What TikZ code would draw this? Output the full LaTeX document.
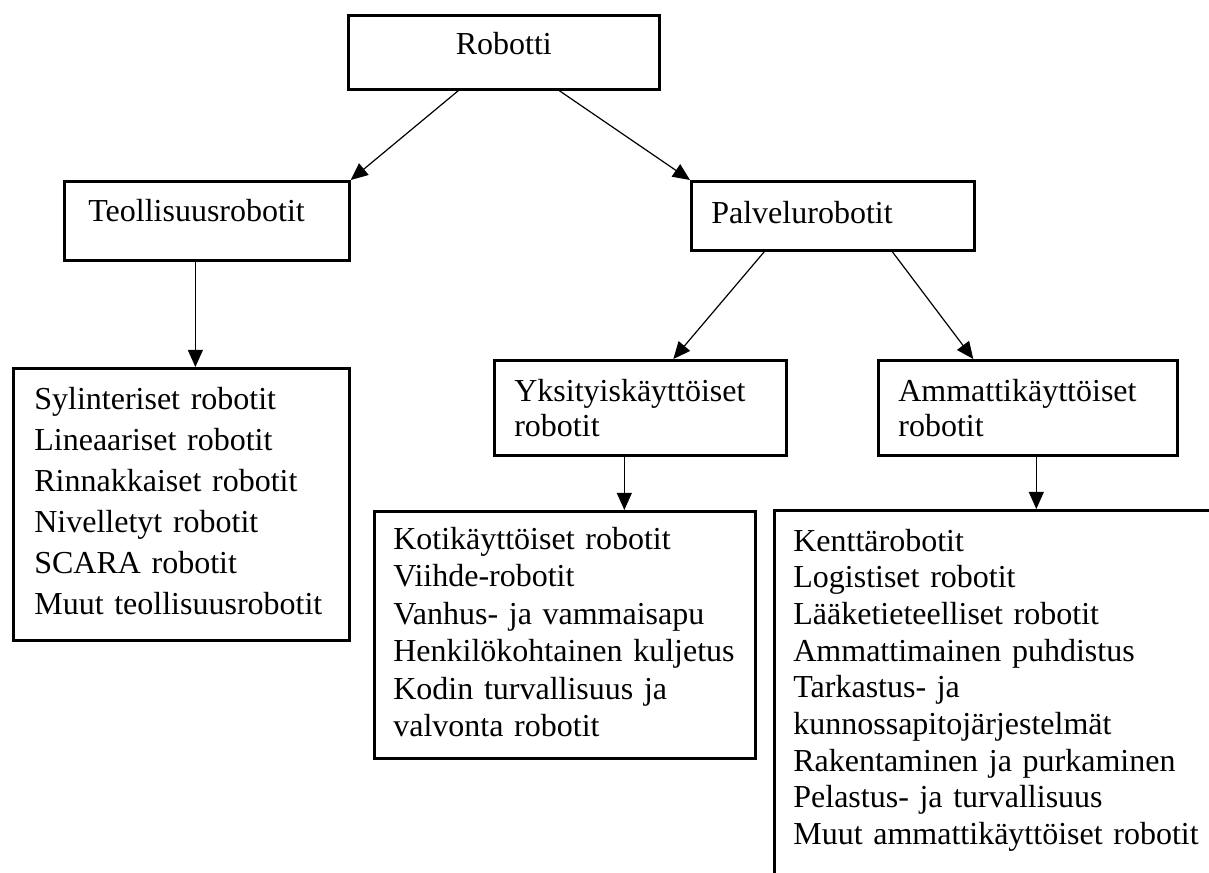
\documentclass[tikz,border=0pt]{standalone}
\usepackage{fontspec}
\setmainfont{Liberation Serif}
\usetikzlibrary{arrows.meta}

\tikzset{
  box/.style = {draw, line width=1pt, anchor=north west, inner ysep=0pt, align=left},
  arr/.style = {line width=0.45pt, -{Triangle[length=6.4pt,width=5.6pt]}}
}

\begin{document}
\begin{tikzpicture}[x=0.375pt,y=-0.375pt]
      \useasboundingbox (0,0) rectangle (1209,872);

      \node[box, align=center, inner xsep=0pt, text width=116.6pt, text height=14.63pt, text depth=13.12pt,
            font=\fontsize{12pt}{14pt}\selectfont] (robot) at (347,14) {Robotti};

      \node[box, inner xsep=9pt, text width=88.9pt, text height=15pt, text depth=14.63pt,
            font=\fontsize{12pt}{14pt}\selectfont] (teol) at (63,180) {Teollisuusrobotit};
      \node[box, inner xsep=7.5pt, text width=91.1pt, text height=15.75pt, text depth=10.13pt,
            font=\fontsize{12pt}{14pt}\selectfont] (palv) at (690,180) {Palvelurobotit};

      \node[box, inner xsep=7.88pt, text width=110.2pt, text height=15.38pt, text depth=86.62pt,
            font=\fontsize{12pt}{15.38pt}\selectfont] (teolList) at (12,367)
            {Sylinteriset robotit\\Lineaariset robotit\\Rinnakkaiset robotit\\Nivelletyt robotit\\SCARA robotit\\Muut teollisuusrobotit};

      \node[box, inner xsep=7.5pt, text width=94.5pt, text height=15.38pt, text depth=20.25pt,
            font=\fontsize{12pt}{13.3pt}\selectfont] (yksi) at (493,359) {Yksityiskäyttöiset\\robotit};
      \node[box, inner xsep=7.5pt, text width=97.1pt, text height=15.38pt, text depth=20.25pt,
            font=\fontsize{12pt}{13.3pt}\selectfont] (ammat) at (877,359) {Ammattikäyttöiset\\robotit};

      \node[box, inner xsep=7.13pt, text width=128.6pt, text height=14.25pt, text depth=78.38pt,
            font=\fontsize{12pt}{14.06pt}\selectfont] (yksiList) at (373,510)
            {Kotikäyttöiset robotit\\Viihde-robotit\\Vanhus- ja vammaisapu\\Henkilökohtainen kuljetus\\Kodin turvallisuus ja\\valvonta robotit};
      \node[box, inner xsep=7.13pt, text width=158.2pt, text height=15.38pt, text depth=127.1pt,
            font=\fontsize{12pt}{13.73pt}\selectfont] (ammatList) at (773,509)
            {Kenttärobotit\\Logistiset robotit\\Lääketieteelliset robotit\\Ammattimainen puhdistus\\Tarkastus- ja\\kunnossapitojärjestelmät\\Rakentaminen ja purkaminen\\Pelastus- ja turvallisuus\\Muut ammattikäyttöiset robotit};

      \draw[arr] ([xshift=-17.06pt]robot.south) -- (teol.north east);
      \draw[arr] ([xshift=20.81pt]robot.south) -- (palv.north west);

      \draw[arr] ([xshift=-4.31pt]teol.south) -- ([xshift=-4.31pt]teol.south |- teolList.north);

      \draw[arr] ([xshift=-25.69pt]palv.south) -- ([xshift=12.38pt]yksi.north);
      \draw[arr] ([xshift=22.31pt]palv.south) -- ([xshift=-20.44pt]ammat.north);

      \draw[arr] ([xshift=-6pt]yksi.south) -- ([xshift=-6pt]yksi.south |- yksiList.north);
      \draw[arr] ([xshift=3.19pt]ammat.south) -- ([xshift=3.19pt]ammat.south |- ammatList.north);

\end{tikzpicture}
\end{document}
